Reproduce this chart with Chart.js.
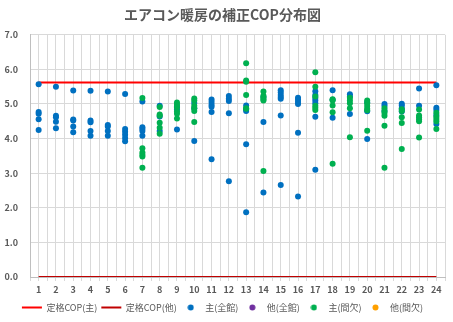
<!DOCTYPE html>
<html>
<head>
<meta charset="utf-8">
<script src="https://cdn.jsdelivr.net/npm/chart.js@4/dist/chart.umd.min.js"></script>
<style>
	html, body { margin: 0; padding: 0; background: #fff; }
	#wrap { width: 453px; height: 322px; }
</style>
</head>
<body>
<div id="wrap"><canvas id="copChart"></canvas></div>
<script>
// hours on the x axis
const hours = [1, 2, 3, 4, 5, 6, 7, 8, 9, 10, 11, 12, 13, 14, 15, 16, 17, 18, 19, 20, 21, 22, 23, 24];

// rated COP lines
const ratedCopMain = 5.62;
const ratedCopOther = 0.0;

// 主(全館) - corrected COP per hour
const mainAll = [
	[5.57, 4.77, 4.72, 4.56, 4.25],
	[5.50, 4.66, 4.62, 4.49, 4.30],
	[5.39, 4.55, 4.52, 4.35, 4.18],
	[5.38, 4.52, 4.47, 4.22, 4.08],
	[5.36, 4.39, 4.35, 4.22, 4.08],
	[5.29, 4.28, 4.20, 4.11, 4.02, 3.92],
	[5.07, 4.33, 4.28, 4.22, 4.08],
	[4.95, 4.64, 4.22],
	[4.93, 4.84, 4.26],
	[5.03, 4.88, 3.93],
	[5.13, 5.06, 4.98, 4.92, 4.77, 3.40],
	[5.23, 5.15, 5.09, 4.73, 2.77],
	[4.96, 4.84, 4.80, 3.84, 1.87],
	[5.20, 4.48, 2.44],
	[5.40, 5.33, 5.26, 5.20, 5.15, 4.67, 2.66],
	[5.18, 5.12, 5.06, 5.00, 4.17, 2.33],
	[5.37, 5.26, 5.17, 5.10, 5.02, 4.63, 3.10],
	[5.40, 5.12, 4.60],
	[5.28, 5.22, 4.71],
	[5.05, 4.79, 3.99],
	[5.00, 4.94, 4.80],
	[5.01, 4.96, 4.88, 4.78],
	[5.45, 4.95],
	[5.54, 4.89, 4.83, 4.68, 4.42]
];

// 主(間欠) - corrected COP per hour
const mainIntermittent = [
	[], [], [], [], [], [],
	[5.17, 3.72, 3.60, 3.53, 3.48, 3.16],
	[4.91, 4.70, 4.66, 4.46, 4.31, 4.14],
	[5.04, 4.98, 4.90, 4.78, 4.72, 4.58],
	[5.16, 5.10, 4.95, 4.88, 4.80, 4.48],
	[],
	[],
	[6.18, 5.68, 5.64, 5.26, 4.88, 4.86],
	[5.36, 5.24, 5.19, 5.14, 5.10, 3.06],
	[],
	[],
	[5.92, 5.50, 5.22, 4.95, 4.89, 4.83],
	[5.14, 5.10, 4.96, 4.76, 3.27],
	[5.18, 5.10, 5.02, 4.88, 4.04],
	[5.10, 5.02, 4.94, 4.86, 4.82, 4.23],
	[4.88, 4.80, 4.74, 4.66, 4.37, 3.16],
	[4.85, 4.80, 4.62, 4.45, 3.70],
	[4.84, 4.67, 4.62, 4.56, 4.50, 4.03],
	[4.75, 4.63, 4.57, 4.50, 4.28]
];

// 他(全館), 他(間欠) - no values
const otherAll = [];
const otherIntermittent = [];

// y axis
const yMin = 0;
const yMax = 7;

const fontFamily = "'Noto Sans CJK JP', 'Noto Sans', sans-serif";
const textColor = '#595959';

// turn per-hour lists into scatter points
function toPoints(list) {
	var pts = [];
	list.forEach((vals, i) => {
		vals.forEach(v => pts.push({ x: hours[i], y: v }));
	});
	return pts;
}

function ratedLine(v) {
	return [{ x: hours[0], y: v }, { x: hours[hours.length - 1], y: v }];
}

// small round marker for the legend (keeps circles round with a wide box)
function legendDot(color) {
	var c = document.createElement('canvas');
	c.width = 7;
	c.height = 7;
	var g = c.getContext('2d');
	g.fillStyle = color;
	g.beginPath();
	g.arc(3.5, 3.5, 3, 0, Math.PI * 2);
	g.fill();
	return c;
}

const ctx = document.getElementById('copChart');
const chart = new Chart(ctx, {
	type: 'scatter',
	data: {
		datasets: [
			{
				label: '定格COP(主)',
				data: ratedLine(ratedCopMain),
				showLine: true,
				borderColor: '#FF0000',
				backgroundColor: '#FF0000',
				borderWidth: 2,
				pointRadius: 0,
				pointStyle: 'line',
				order: 3
			},
			{
				label: '定格COP(他)',
				data: ratedLine(ratedCopOther),
				showLine: true,
				borderColor: '#C00000',
				backgroundColor: '#C00000',
				borderWidth: 2,
				pointRadius: 0,
				pointStyle: 'line',
				order: 3
			},
			{
				label: '主(全館)',
				data: toPoints(mainAll),
				backgroundColor: '#0070C0',
				borderColor: '#0070C0',
				borderWidth: 0,
				pointRadius: 3,
				order: 2
			},
			{
				label: '他(全館)',
				data: otherAll,
				backgroundColor: '#7030A0',
				borderColor: '#7030A0',
				borderWidth: 0,
				pointRadius: 3,
				order: 2
			},
			{
				label: '主(間欠)',
				data: toPoints(mainIntermittent),
				backgroundColor: '#00B050',
				borderColor: '#00B050',
				borderWidth: 0,
				pointRadius: 3,
				order: 1
			},
			{
				label: '他(間欠)',
				data: otherIntermittent,
				backgroundColor: '#FFA000',
				borderColor: '#FFA000',
				borderWidth: 0,
				pointRadius: 3,
				order: 1
			}
		]
	},
	options: {
		responsive: true,
		maintainAspectRatio: false,
		animation: false,
		layout: { padding: { left: 0, right: 8, top: 0, bottom: 0 } },
		plugins: {
			tooltip: { enabled: false },
			title: {
				display: true,
				text: 'エアコン暖房の補正COP分布図',
				color: textColor,
				font: { family: fontFamily, size: 14, weight: 'bold' },
				padding: { top: 6, bottom: 12 }
			},
			legend: {
				position: 'bottom',
				labels: {
					usePointStyle: true,
					pointStyleWidth: 20,
					boxHeight: 4,
					padding: 4,
					color: textColor,
					font: { family: fontFamily, size: 9 },
					// keep the legend in dataset order, not draw order
					sort: (a, b) => a.datasetIndex - b.datasetIndex,
					generateLabels: chart => {
						var items = Chart.defaults.plugins.legend.labels.generateLabels(chart);
						items.forEach(it => {
							if (it.pointStyle !== 'line') {
								it.pointStyle = legendDot(it.fillStyle);
							}
						});
						return items;
					}
				}
			}
		},
		scales: {
			x: {
				type: 'linear',
				min: 0.5,
				max: 24.5,
				afterFit: scale => { scale.height = 22; },
				ticks: {
					stepSize: 0.5,
					autoSkip: false,
					maxRotation: 0,
					padding: 3,
					color: textColor,
					font: { family: fontFamily, size: 9, weight: 'bold' },
					callback: v => Number.isInteger(v) ? String(v) : ''
				},
				grid: { color: '#d9d9d9', tickLength: 4 },
				border: { color: '#bfbfbf' }
			},
			y: {
				min: yMin,
				max: yMax,
				afterFit: scale => { scale.width = 30; },
				ticks: {
					stepSize: 1,
					padding: 12,
					color: textColor,
					font: { family: fontFamily, size: 9, weight: 'bold' },
					callback: v => v.toFixed(1)
				},
				grid: { color: '#d9d9d9', drawTicks: false },
				border: { color: '#bfbfbf' }
			}
		}
	}
});
</script>
</body>
</html>
